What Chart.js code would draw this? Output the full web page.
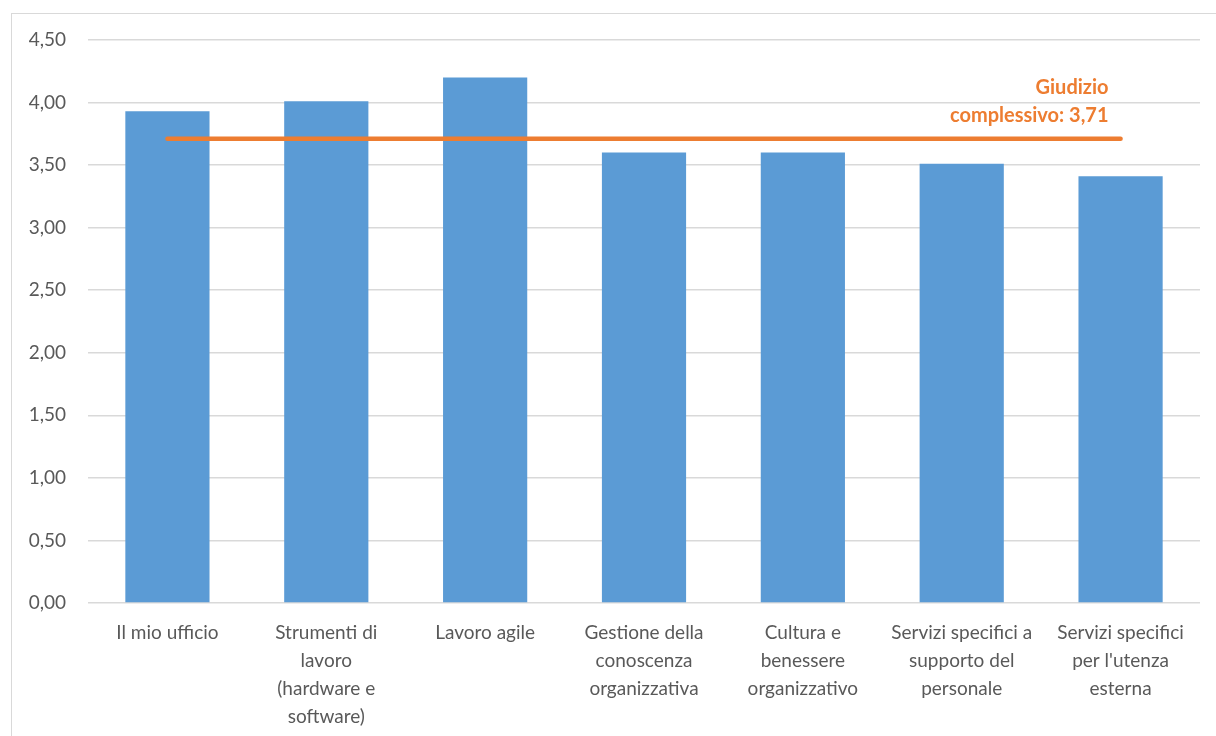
<!DOCTYPE html>
<html>
<head>
<meta charset="utf-8">
<script src="https://cdn.jsdelivr.net/npm/chart.js@4/dist/chart.umd.min.js"></script>
<style>
    body { margin: 0; background: #fff; }
    #wrap { position: relative; width: 1216px; height: 736px; }
    #frame { position: absolute; left: 11px; top: 13px; width: 1220px; height: 740px; border: 1px solid #d9d9d9; }
    canvas { position: absolute; left: 0; top: 0; }
</style>
</head>
<body>
<div id="wrap">
    <div id="frame"></div>
    <canvas id="chart" width="1216" height="736"></canvas>
</div>
<script>
// --- Data ---
const categories = [
    ['Il mio ufficio'],
    ['Strumenti di', 'lavoro', '(hardware e', 'software)'],
    ['Lavoro agile'],
    ['Gestione della', 'conoscenza', 'organizzativa'],
    ['Cultura e', 'benessere', 'organizzativo'],
    ['Servizi specifici a', 'supporto del', 'personale'],
    ['Servizi specifici', "per l'utenza", 'esterna']
];
const scores = [3.93, 4.01, 4.20, 3.60, 3.60, 3.51, 3.41];
const overall = [3.71, 3.71, 3.71, 3.71, 3.71, 3.71, 3.71];
const overallLabel = ['Giudizio', 'complessivo: 3,71'];
const yTicks = { min: 0, max: 4.5, step: 0.5 };

const FONT = 'Lato, "Open Sans", sans-serif';

// draws the orange caption above the end of the overall line
const captionPlugin = {
    id: 'caption',
    afterDatasetsDraw(chart) {
        const { ctx, scales } = chart;
        const x = scales.x.getPixelForValue(categories.length - 1) - 12;
        const y = scales.y.getPixelForValue(overall[overall.length - 1]);
        ctx.save();
        ctx.fillStyle = '#ED7D31';
        ctx.font = 'bold 20px ' + FONT;
        ctx.textAlign = 'right';
        ctx.textBaseline = 'middle';
        ctx.fillText(overallLabel[0], x, y - 51);
        ctx.fillText(overallLabel[1], x, y - 23);
        ctx.restore();
    }
};

new Chart(document.getElementById('chart'), {
    data: {
        labels: categories,
        datasets: [
            {
                type: 'line',
                data: overall,
                borderColor: '#ED7D31',
                borderWidth: 4.5,
                borderCapStyle: 'round',
                pointRadius: 0,
                order: 0
            },
            {
                type: 'bar',
                data: scores,
                backgroundColor: '#5B9BD5',
                categoryPercentage: 1,
                barPercentage: 0.53,
                order: 1
            }
        ]
    },
    options: {
        responsive: false,
        animation: false,
        layout: { padding: { top: 40, right: 16, left: 0, bottom: 0 } },
        plugins: {
            legend: { display: false },
            tooltip: { enabled: false }
        },
        scales: {
            x: {
                grid: { display: false },
                border: { display: false },
                afterFit(scale) { scale.height = 133; },
                ticks: {
                    color: '#595959',
                    padding: 8,
                    maxRotation: 0,
                    autoSkip: false,
                    font: { family: FONT, size: 19, lineHeight: 1.47 }
                }
            },
            y: {
                min: yTicks.min,
                max: yTicks.max,
                afterFit(scale) { scale.width = 88; },
                grid: { color: '#d9d9d9', lineWidth: 1.5, drawTicks: false },
                border: { display: false },
                ticks: {
                    stepSize: yTicks.step,
                    color: '#595959',
                    padding: 22,
                    font: { family: FONT, size: 19 },
                    callback: v => v.toFixed(2).replace('.', ',')
                }
            }
        }
    },
    plugins: [captionPlugin]
});
</script>
</body>
</html>
